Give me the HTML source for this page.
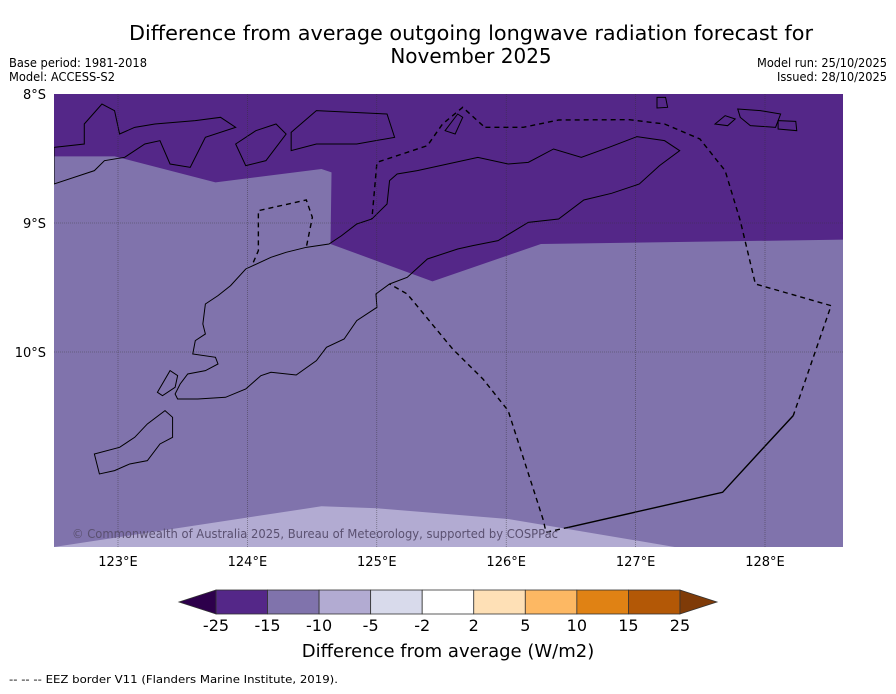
<!DOCTYPE html>
<html><head><meta charset="utf-8">
<style>
body{margin:0;background:#fff;width:896px;height:690px;overflow:hidden;font-family:"DejaVu Sans","Liberation Sans",sans-serif;}
svg text{font-family:"DejaVu Sans","Liberation Sans",sans-serif;}
</style></head>
<body>
<svg id="chart" width="896" height="690" viewBox="0 0 896 690" xmlns="http://www.w3.org/2000/svg">
<text x="471" y="40" font-size="20" text-anchor="middle" textLength="684" lengthAdjust="spacingAndGlyphs">Difference from average outgoing longwave radiation forecast for</text>
<text x="471" y="63" font-size="20" text-anchor="middle">November 2025</text>
<text x="9" y="67" font-size="12" textLength="138" lengthAdjust="spacingAndGlyphs">Base period: 1981-2018</text>
<text x="9" y="81" font-size="12" textLength="106" lengthAdjust="spacingAndGlyphs">Model: ACCESS-S2</text>
<text x="887" y="67" font-size="12" text-anchor="end" textLength="130" lengthAdjust="spacingAndGlyphs">Model run: 25/10/2025</text>
<text x="887" y="81" font-size="12" text-anchor="end" textLength="110" lengthAdjust="spacingAndGlyphs">Issued: 28/10/2025</text>

<defs><clipPath id="mapclip"><rect x="54" y="94" width="789" height="453"/></clipPath></defs>
<g clip-path="url(#mapclip)">
<rect x="54" y="94" width="789" height="453" fill="#542788"/>
<g transform="translate(54,94) scale(0.5046,0.3333)">
<polygon fill="#8073ac" points="0,187 120,187 320,265 530,225 550,235 548,450 750,562 965,450 1566,437 1570,1360 0,1360"/>
<polygon fill="#b2abd2" points="0,1359 530,1237 640,1243 900,1275 1230,1359"/>
<g fill="none" stroke="#000" stroke-width="1">
<polygon vector-effect="non-scaling-stroke" points="245,915 285,915 340,910 380,885 410,845 430,835 480,843 520,800 540,760 575,735 600,680 640,640 638,600 665,570 700,550 740,495 800,465 830,455 880,440 940,385 1000,375 1050,318 1105,298 1160,270 1200,215 1240,170 1210,140 1155,128 1100,160 1045,190 990,165 940,205 900,210 840,190 780,210 720,230 680,240 665,260 660,330 630,375 600,390 570,425 545,450 500,460 460,475 430,490 380,525 350,575 325,605 300,630 295,690 300,720 280,740 275,780 320,790 325,810 300,830 265,840 250,870 240,900"/>
<polygon vector-effect="non-scaling-stroke" points="205,895 230,830 245,845 240,880 215,905"/>
<polygon vector-effect="non-scaling-stroke" points="80,1080 130,1060 160,1030 185,990 220,950 235,970 235,1030 210,1050 185,1100 150,1110 120,1130 90,1140"/>
<polygon vector-effect="non-scaling-stroke" points="470,115 520,50 660,60 675,130 600,150 520,150 470,170"/>
<polygon vector-effect="non-scaling-stroke" points="60,90 95,30 120,50 130,120 160,100 200,90 280,80 330,70 360,100 300,130 270,220 230,210 210,140 180,150 140,190 100,200 80,230 0,270 0,160 60,150"/>
<polygon vector-effect="non-scaling-stroke" points="360,150 400,110 440,90 460,120 420,200 380,215"/>
<polygon vector-effect="non-scaling-stroke" points="775,110 800,60 810,70 795,120"/>
<polygon vector-effect="non-scaling-stroke" points="1355,45 1400,50 1440,60 1430,100 1380,95 1360,70"/>
<polygon vector-effect="non-scaling-stroke" points="1310,90 1330,65 1350,75 1335,95"/>
<polygon vector-effect="non-scaling-stroke" points="1435,80 1470,82 1472,110 1435,105"/>
<polygon vector-effect="non-scaling-stroke" points="1195,10 1212,10 1216,40 1195,42"/>
</g>
<g fill="none" stroke="#000" stroke-width="1.4" stroke-dasharray="5,4">
<polyline vector-effect="non-scaling-stroke" points="855,100 930,100 1000,78 1140,77 1210,90 1280,135 1330,230 1360,380 1390,570 1540,635 1465,965"/>
<polyline vector-effect="non-scaling-stroke" points="1020,1300 975,1315 970,1280 900,950 850,855 790,765 700,600 665,570"/>
<polyline vector-effect="non-scaling-stroke" points="850,95 810,40 770,90 740,155 640,205 630,375"/>
<polyline vector-effect="non-scaling-stroke" points="395,505 405,470 405,350 500,318 512,370 500,460"/>
</g>
<polyline fill="none" stroke="#000" stroke-width="1.4" vector-effect="non-scaling-stroke" points="1465,965 1410,1055 1325,1195 1020,1300"/>
</g>
<g id="grid"></g>
<text x="72" y="538" font-size="12" fill="#5a5070" textLength="486" lengthAdjust="spacingAndGlyphs">© Commonwealth of Australia 2025, Bureau of Meteorology, supported by COSPPac</text>
</g>
<g id="axes"></g>
<g id="cbar"></g>
<text x="448" y="657" font-size="18" text-anchor="middle">Difference from average (W/m2)</text>
<text x="9" y="683" font-size="11" textLength="329" lengthAdjust="spacingAndGlyphs">--  --  -- EEZ border V11 (Flanders Marine Institute, 2019).</text>
</svg>
<script>
const lonTicks=[123,124,125,126,127,128];
const latTicks=[8,9,10];
const latTickLabels=["8°S","9°S","10°S"];
const cbarBounds=[-25,-15,-10,-5,-2,2,5,10,15,25];
const cbarColors=["#542788","#8073ac","#b2abd2","#d8daeb","#ffffff","#fee0b6","#fdb863","#e08214","#b35806"];
const extendColors=["#2d004b","#7f3b08"];
const NS="http://www.w3.org/2000/svg";
function xLon(l){return 118+(l-123)*129.4;}
function yLat(l){return 94+(l-8)*129;}
function mk(tag,attrs,parent){const e=document.createElementNS(NS,tag);for(const k in attrs)e.setAttribute(k,attrs[k]);parent.appendChild(e);return e;}
const grid=document.getElementById('grid'),axes=document.getElementById('axes'),cbar=document.getElementById('cbar');
lonTicks.forEach(l=>{
 const ln=mk('line',{x1:xLon(l),x2:xLon(l),y1:94,y2:547,stroke:'#333','stroke-width':0.6,'stroke-dasharray':'1,1','stroke-opacity':0.7},grid);
 
 
 const t=mk('text',{x:xLon(l),y:566,'font-size':13,'text-anchor':'middle'},axes);
 t.textContent=l+"°E";
 
 
});
latTicks.forEach((l,i)=>{
 if(l>8){const ln=mk('line',{x1:54,x2:843,y1:yLat(l),y2:yLat(l),stroke:'#333','stroke-width':0.6,'stroke-dasharray':'1,1','stroke-opacity':0.7},grid);
 
 }
 const t=mk('text',{x:46,y:yLat(l)+5,'font-size':13,'text-anchor':'end'},axes);
 t.textContent=latTickLabels[i];
 
 
});
const cx0=216,cw=51.55,cy=590,ch=24;
function cX(i){return cx0+i*cw;}
cbarColors.forEach((c,i)=>{
 const r=mk('rect',{x:cX(i),y:cy,width:cw,height:ch,fill:c,stroke:'#333','stroke-width':0.8},cbar);
 
 
});
const la=mk('polygon',{points:`${cX(0)},${cy} ${cX(0)-37},${cy+12} ${cX(0)},${cy+ch}`,fill:extendColors[0],stroke:'#333','stroke-width':0.8},cbar);


const n=cbarColors.length;
const ra=mk('polygon',{points:`${cX(n)},${cy} ${cX(n)+37},${cy+12} ${cX(n)},${cy+ch}`,fill:extendColors[1],stroke:'#333','stroke-width':0.8},cbar);


cbarBounds.forEach((b,i)=>{
 const t=mk('text',{x:cX(i),y:631,'font-size':16,'text-anchor':'middle'},cbar);
 t.textContent=b;
 
 
});
</script>
</body></html>
